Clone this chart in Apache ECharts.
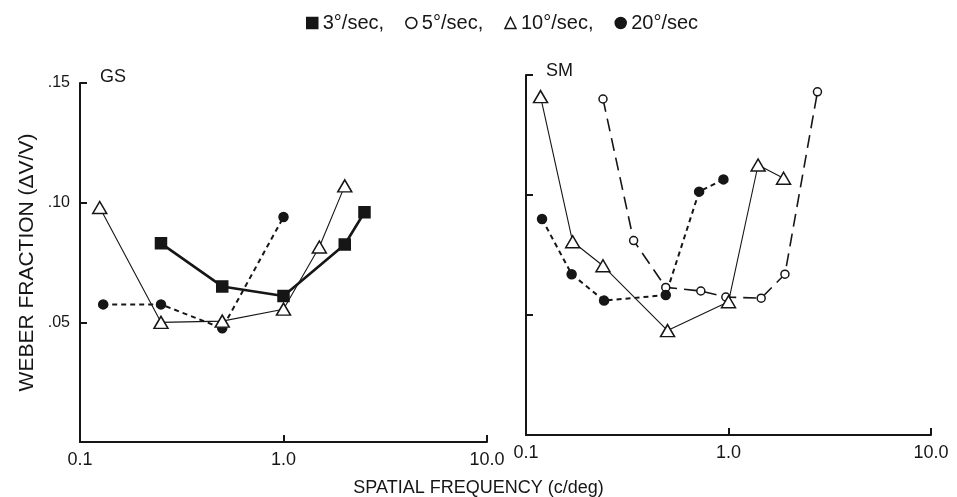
<!DOCTYPE html>
<html>
<head>
<meta charset="utf-8">
<script src="https://cdn.jsdelivr.net/npm/echarts@6/dist/echarts.min.js"></script>
<style>
  html, body { margin: 0; padding: 0; background: #fff; }
  #chart { width: 957px; height: 497px; }
</style>
</head>
<body>
<div id="chart"></div>
<script>
// GS panel (left)
const gsFreq3 = [0.25, 0.5, 1.0, 2.0, 2.5]
const gsWeber3 = [0.083, 0.065, 0.061, 0.0825, 0.096]
const gsFreq10 = [0.125, 0.25, 0.5, 1.0, 1.5, 2.0]
const gsWeber10 = [0.098, 0.050, 0.0505, 0.0555, 0.0815, 0.107]
const gsFreq20 = [0.13, 0.25, 0.5, 1.0]
const gsWeber20 = [0.0575, 0.0575, 0.0475, 0.094]

// SM panel (right)
const smFreq5 = [0.24, 0.34, 0.49, 0.73, 0.97, 1.45, 1.9, 2.75]
const smWeber5 = [0.140, 0.081, 0.0615, 0.060, 0.0575, 0.057, 0.067, 0.143]
const smFreq10 = [0.118, 0.17, 0.24, 0.5, 1.0, 1.4, 1.87]
const smWeber10 = [0.141, 0.0805, 0.0705, 0.0435, 0.0555, 0.1125, 0.107]
const smFreq20 = [0.12, 0.168, 0.243, 0.49, 0.716, 0.944]
const smWeber20 = [0.09, 0.067, 0.056, 0.0583, 0.1014, 0.1065]

const speedNames = ['3°/sec', '5°/sec', '10°/sec', '20°/sec']
const yTicks = ['', '.05', '.10', '.15']

const ink = '#161616'
const font = 'Liberation Sans, Arial, sans-serif'

function pairs(xs, ys) {
  return xs.map((x, i) => [x, ys[i]])
}

// one look per speed
const styles = {
  '3°/sec': { symbol: 'rect', symbolSize: 11, width: 2.6, type: 'solid', fill: ink },
  '5°/sec': { symbol: 'circle', symbolSize: 8, width: 1.6, type: [13, 7], fill: '#fff' },
  '10°/sec': { symbol: 'triangle', symbolSize: [14, 12], width: 1.1, type: 'solid', fill: '#fff' },
  '20°/sec': { symbol: 'circle', symbolSize: 9, width: 2, type: [5, 4], fill: ink }
}

function makeSeries(name, xs, ys, idx) {
  const s = styles[name]
  return {
    name: name,
    type: 'line',
    xAxisIndex: idx,
    yAxisIndex: idx,
    data: pairs(xs, ys),
    symbol: s.symbol,
    symbolSize: s.symbolSize,
    showAllSymbol: true,
    lineStyle: { color: ink, width: s.width, type: s.type },
    itemStyle: { color: s.fill, borderColor: ink, borderWidth: 1.5 },
    emphasis: { disabled: true },
    animation: false,
    z: name === '10°/sec' ? 3 : 2
  }
}

const chart = echarts.init(document.getElementById('chart'))

const xAxisBase = {
  type: 'log',
  logBase: 10,
  min: 0.1,
  max: 10,
  axisLine: { lineStyle: { color: ink, width: 2 } },
  axisTick: { inside: true, length: 7, lineStyle: { color: ink, width: 2 } },
  axisLabel: {
    color: ink,
    fontSize: 18,
    fontFamily: font,
    margin: 9,
    formatter: v => v.toFixed(1)
  },
  splitLine: { show: false },
  minorTick: { show: false }
}

const yAxisBase = {
  type: 'value',
  min: 0,
  max: 0.15,
  interval: 0.05,
  axisLine: { show: true, lineStyle: { color: ink, width: 2 } },
  axisTick: { show: true, inside: true, length: 7, lineStyle: { color: ink, width: 2 } },
  splitLine: { show: false }
}

chart.setOption({
  backgroundColor: '#fff',
  title: [
    { text: 'GS', left: 95, top: 63, textStyle: { fontSize: 18, fontWeight: 'normal', color: ink, fontFamily: font } },
    { text: 'SM', left: 541, top: 57, textStyle: { fontSize: 18, fontWeight: 'normal', color: ink, fontFamily: font } },
    { text: 'SPATIAL FREQUENCY (c/deg)', left: 'center', top: 474, textStyle: { fontSize: 18, fontWeight: 'normal', color: ink, fontFamily: font } }
  ],
  legend: {
    top: 8,
    left: 301,
    itemWidth: 11,
    itemHeight: 11,
    itemGap: 21,
    selectedMode: false,
    textStyle: { fontSize: 20, color: ink, fontFamily: font },
    formatter: n => (n === speedNames[speedNames.length - 1] ? n : n + ','),
    data: speedNames.map(n => ({
      name: n,
      icon: styles[n].symbol,
      itemStyle: { color: styles[n].fill, borderColor: ink, borderWidth: 1.5 }
    }))
  },
  grid: [
    { left: 80, right: 470, top: 83, bottom: 55 },
    { left: 526, right: 26, top: 75, bottom: 62 }
  ],
  xAxis: [
    Object.assign({ gridIndex: 0 }, xAxisBase),
    Object.assign({ gridIndex: 1 }, xAxisBase)
  ],
  yAxis: [
    Object.assign({ gridIndex: 0 }, yAxisBase, {
      name: 'WEBER FRACTION (ΔV/V)',
      nameLocation: 'middle',
      nameGap: 42,
      nameTextStyle: { fontSize: 21, color: ink, fontFamily: font },
      axisLabel: {
        color: ink,
        fontSize: 16,
        fontFamily: font,
        margin: 10,
        formatter: v => yTicks[Math.round(v / 0.05)]
      }
    }),
    Object.assign({ gridIndex: 1 }, yAxisBase, {
      axisLabel: { show: false }
    })
  ],
  series: [
    makeSeries('3°/sec', gsFreq3, gsWeber3, 0),
    makeSeries('10°/sec', gsFreq10, gsWeber10, 0),
    makeSeries('20°/sec', gsFreq20, gsWeber20, 0),
    makeSeries('5°/sec', smFreq5, smWeber5, 1),
    makeSeries('10°/sec', smFreq10, smWeber10, 1),
    makeSeries('20°/sec', smFreq20, smWeber20, 1)
  ]
})
</script>
</body>
</html>
